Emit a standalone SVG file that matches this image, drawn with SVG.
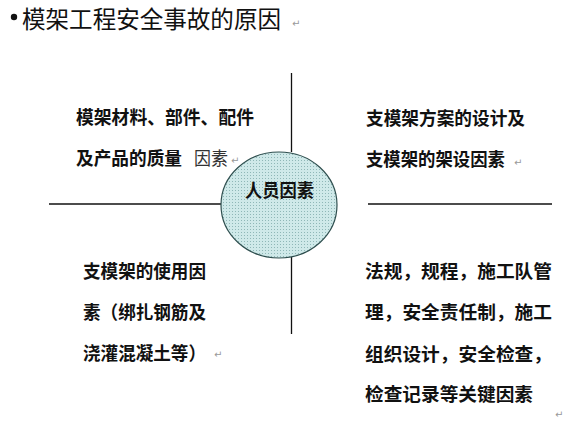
<svg xmlns="http://www.w3.org/2000/svg" width="578" height="428" viewBox="0 0 578 428">
<defs>
<style>
.t{font-family:"Noto Sans CJK SC","Noto Sans",sans-serif;fill:#111;}
.b{font-size:18.5px;font-weight:bold;}
.n{font-size:18.5px;font-weight:normal;fill:#333;}
.ret{font-family:"DejaVu Sans",sans-serif;font-size:10px;fill:#999;}
.ln{stroke:#111;stroke-width:1.3;fill:none;}
</style>
<pattern id="dots" width="3" height="3" patternUnits="userSpaceOnUse">
<rect width="3" height="3" fill="#cfe9e9"/>
<rect x="1" y="1" width="1" height="1" fill="#8fb7b7"/>
</pattern>
</defs>
<rect width="578" height="428" fill="#fff"/>
<g id="title">
<circle cx="14" cy="17" r="3.2" fill="#111"/>
<text class="t" x="22" y="28" font-size="24" textLength="259" lengthAdjust="spacingAndGlyphs">模架工程安全事故的原因</text>
<text class="ret" x="292" y="27">↵</text>
</g>
<g id="connectors">
<line class="ln" x1="291.5" y1="73" x2="291.5" y2="152"/>
<line class="ln" x1="291.5" y1="257" x2="291.5" y2="334"/>
<line class="ln" x1="49" y1="204" x2="221" y2="204"/>
<line class="ln" x1="368" y1="204" x2="552" y2="204"/>
</g>
<g id="node-materials">
<text class="t b" x="76" y="124" textLength="178" lengthAdjust="spacingAndGlyphs">模架材料、部件、配件</text>
<text class="t b" x="76" y="165" textLength="106" lengthAdjust="spacingAndGlyphs">及产品的质量</text>
<text class="t n" x="194" y="165" textLength="34" lengthAdjust="spacingAndGlyphs">因素</text>
<text class="ret" x="231" y="164">↵</text>
</g>
<g id="node-scheme">
<text class="t b" x="366" y="125" textLength="159" lengthAdjust="spacingAndGlyphs">支模架方案的设计及</text>
<text class="t b" x="366" y="166" textLength="139" lengthAdjust="spacingAndGlyphs">支模架的架设因素</text>
<text class="ret" x="514" y="166">↵</text>
</g>
<g id="node-people">
<ellipse cx="279" cy="205" rx="58" ry="53" fill="url(#dots)" stroke="#2f4f4f" stroke-width="1.2"/>
<text class="t b" x="245" y="197" textLength="69" lengthAdjust="spacingAndGlyphs">人员因素</text>
</g>
<g id="node-usage">
<text class="t b" x="83" y="278" textLength="123" lengthAdjust="spacingAndGlyphs">支模架的使用因</text>
<text class="t b" x="83" y="319" textLength="123" lengthAdjust="spacingAndGlyphs">素（绑扎钢筋及</text>
<text class="t b" x="83" y="360" textLength="123" lengthAdjust="spacingAndGlyphs">浇灌混凝土等）</text>
<text class="ret" x="214" y="358">↵</text>
</g>
<g id="node-rules">
<text class="t b" x="365" y="278" textLength="187" lengthAdjust="spacingAndGlyphs">法规，规程，施工队管</text>
<text class="t b" x="365" y="319" textLength="187" lengthAdjust="spacingAndGlyphs">理，安全责任制，施工</text>
<text class="t b" x="365" y="361" textLength="187" lengthAdjust="spacingAndGlyphs">组织设计，安全检查，</text>
<text class="t b" x="365" y="401" textLength="168" lengthAdjust="spacingAndGlyphs">检查记录等关键因素</text>
<text class="ret" x="555" y="418">↵</text>
</g>
</svg>
